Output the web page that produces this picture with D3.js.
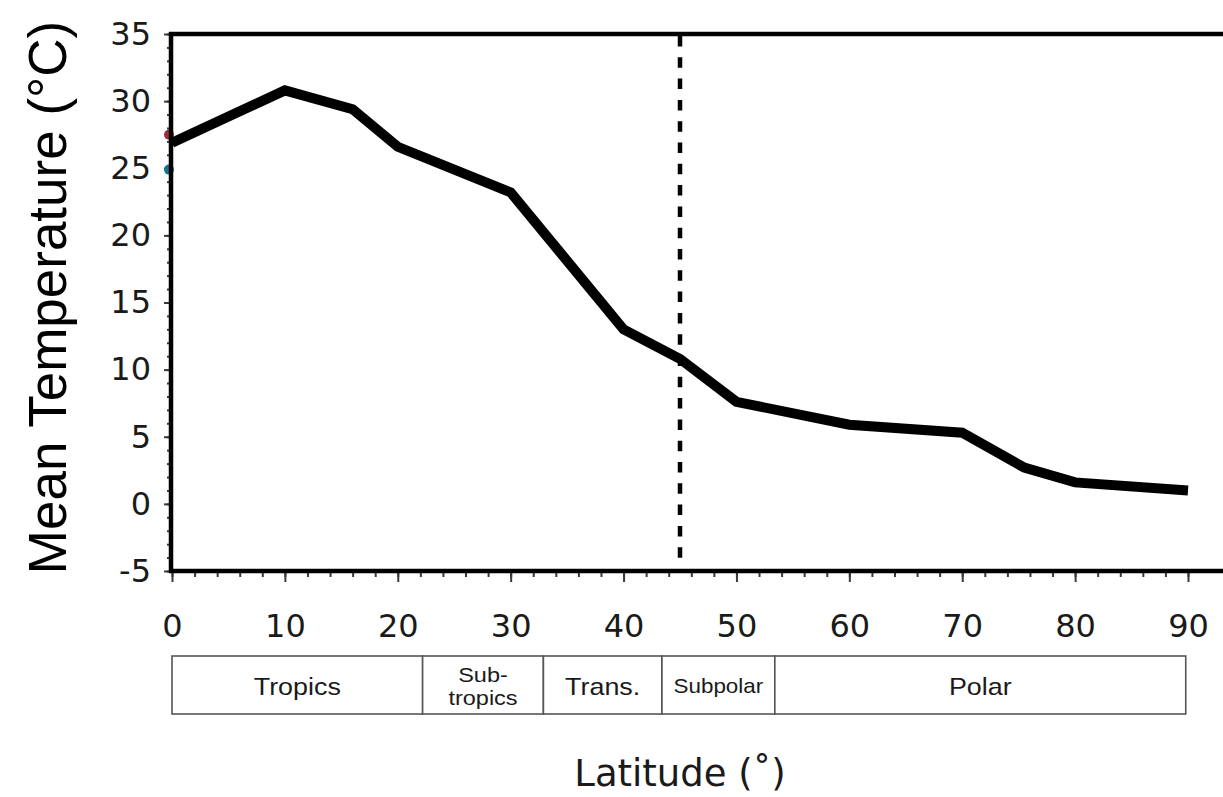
<!DOCTYPE html>
<html>
<head>
<meta charset="utf-8">
<script src="https://cdn.jsdelivr.net/npm/d3@7"></script>
<style>
  html, body { margin: 0; padding: 0; background: #fff; }
  svg { display: block; }
</style>
</head>
<body>
<svg id="chart" width="1223" height="797"></svg>
<script>
// Zonal mean temperature profile by latitude
const latitudes = [0, 10, 16, 20, 30, 40, 45, 50, 60, 70, 75.5, 80, 90];
const meanTemps = [26.9, 30.8, 29.4, 26.6, 23.2, 13.0, 10.8, 7.6, 5.9, 5.3, 2.7, 1.6, 1.0];

// Partly hidden markers sitting on the equator axis
const edgeMarkerTemps = [27.5, 24.9];
const edgeMarkerColors = ["#9b2d3c", "#1f6f8f"];

// Tick values
const xMajorTicks = [0, 10, 20, 30, 40, 50, 60, 70, 80, 90];
const xMinorTicks = d3.range(0, 91, 2);
const yMajorTicks = [-5, 0, 5, 10, 15, 20, 25, 30, 35];
const yMinorTicks = d3.range(-5, 36, 1);

// Boundary between warm and cold regimes
const regimeBoundary = 45;

// Climate zones along the latitude axis
const zoneEdges = [0, 22.2, 32.9, 43.4, 53.4, 89.8];
const zoneLabels = [["Tropics"], ["Sub-", "tropics"], ["Trans."], ["Subpolar"], ["Polar"]];

const svg = d3.select("#chart");
const W = 1223;

const x = d3.scaleLinear().domain([0, 90]).range([172, 1188]);
const y = d3.scaleLinear().domain([-5, 35]).range([571, 34]);

const tickColor = "#3a3a3a";
const labelFont = "DejaVu Sans, sans-serif";

// Minor ticks (x, pointing down)
const xMinorAxis = d3.axisBottom(x).tickValues(xMinorTicks).tickSize(6).tickFormat("");
const gxm = svg.append("g").attr("transform", `translate(0,${y(-5)})`).call(xMinorAxis);
gxm.select(".domain").remove();
gxm.selectAll("line").attr("stroke", tickColor).attr("stroke-width", 2);

// Major ticks and labels (x)
const xAxis = d3.axisBottom(x).tickValues(xMajorTicks).tickSize(11).tickPadding(32);
const gx = svg.append("g").attr("transform", `translate(0,${y(-5)})`).call(xAxis);
gx.select(".domain").remove();
gx.selectAll("line").attr("stroke", tickColor).attr("stroke-width", 2);
gx.selectAll("text")
  .attr("font-family", labelFont)
  .attr("font-size", 32)
  .attr("fill", "#1a1a1a");

// Minor ticks (y, pointing left)
const yMinorAxis = d3.axisLeft(y).tickValues(yMinorTicks).tickSize(5).tickFormat("");
const gym = svg.append("g").attr("transform", `translate(${x(0)},0)`).call(yMinorAxis);
gym.select(".domain").remove();
gym.selectAll("line").attr("stroke", tickColor).attr("stroke-width", 2);

// Major ticks and labels (y)
const yAxis = d3.axisLeft(y).tickValues(yMajorTicks).tickSize(8).tickPadding(13)
  .tickFormat(d => d < 0 ? "-" + Math.abs(d) : String(d));
const gy = svg.append("g").attr("transform", `translate(${x(0)},0)`).call(yAxis);
gy.select(".domain").remove();
gy.selectAll("line").attr("stroke", tickColor).attr("stroke-width", 2);
gy.selectAll("text")
  .attr("font-family", labelFont)
  .attr("font-size", 32)
  .attr("fill", "#1a1a1a");

// Markers at latitude 0, mostly covered by the axis line
svg.append("g").selectAll("circle")
  .data(edgeMarkerTemps)
  .join("circle")
  .attr("cx", x(0) - 3)
  .attr("cy", d => y(d))
  .attr("r", 5)
  .attr("fill", (d, i) => edgeMarkerColors[i]);

// Dashed regime boundary
svg.append("line")
  .attr("x1", x(regimeBoundary)).attr("x2", x(regimeBoundary))
  .attr("y1", y(35) + 2).attr("y2", y(-4.1))
  .attr("stroke", "#000")
  .attr("stroke-width", 4.5)
  .attr("stroke-dasharray", "10.5,10.8");

// Temperature profile
const line = d3.line()
  .x(d => x(d[0]))
  .y(d => y(d[1]));
svg.append("path")
  .datum(latitudes.map((lat, i) => [lat, meanTemps[i]]))
  .attr("d", line)
  .attr("fill", "none")
  .attr("stroke", "#000")
  .attr("stroke-width", 10)
  .attr("stroke-linejoin", "miter")
  .attr("stroke-linecap", "butt");

// Plot frame: left, top and bottom edges
const frame = svg.append("g").attr("stroke", "#000").attr("stroke-width", 4.5).attr("fill", "none");
frame.append("line").attr("x1", x(0) - 1).attr("x2", x(0) - 1).attr("y1", y(35) - 2).attr("y2", y(-5) + 2);
frame.append("line").attr("x1", x(0) - 3).attr("x2", W + 5).attr("y1", y(35)).attr("y2", y(35));
frame.append("line").attr("x1", x(0) - 3).attr("x2", W + 5).attr("y1", y(-5)).attr("y2", y(-5));

// Climate zone strip
const boxTop = 656, boxBottom = 714;
const zones = zoneLabels.map((lab, i) => ({ lab, x0: zoneEdges[i], x1: zoneEdges[i + 1] }));
const zg = svg.append("g");
zg.selectAll("rect")
  .data(zones)
  .join("rect")
  .attr("x", d => x(d.x0))
  .attr("y", boxTop)
  .attr("width", d => x(d.x1) - x(d.x0))
  .attr("height", boxBottom - boxTop)
  .attr("fill", "#fff")
  .attr("stroke", "#555")
  .attr("stroke-width", 1.6);

const zt = zg.selectAll("g.zone")
  .data(zones)
  .join("g")
  .attr("class", "zone")
  .attr("transform", d => `translate(${(x(d.x0) + x(d.x1)) / 2},${(boxTop + boxBottom) / 2 + 1})`);
zt.each(function(d) {
  const g = d3.select(this);
  const n = d.lab.length;
  const fs = n > 1 ? 21 : (d.lab[0] === "Subpolar" ? 20 : 24);
  const lh = 23;
  d.lab.forEach((t, k) => {
    g.append("text")
      .attr("transform", `translate(0,${(k - (n - 1) / 2) * lh}) scale(1.12,1)`)
      .attr("text-anchor", "middle")
      .attr("dy", "0.36em")
      .attr("font-family", "Liberation Sans, Arial, sans-serif")
      .attr("font-size", fs)
      .attr("fill", "#1a1a1a")
      .text(t);
  });
});

// Axis titles
svg.append("text")
  .attr("transform", `translate(66,${(20 + 575) / 2}) rotate(-90)`)
  .attr("text-anchor", "middle")
  .attr("font-family", "Liberation Sans, Arial, sans-serif")
  .attr("font-size", 53)
  .attr("fill", "#000")
  .text("Mean Temperature (°C)");

svg.append("text")
  .attr("x", 680)
  .attr("y", 786)
  .attr("text-anchor", "middle")
  .attr("font-family", "DejaVu Sans, sans-serif")
  .attr("font-size", 37)
  .attr("fill", "#1a1a1a")
  .text("Latitude (˚)");
</script>
</body>
</html>
